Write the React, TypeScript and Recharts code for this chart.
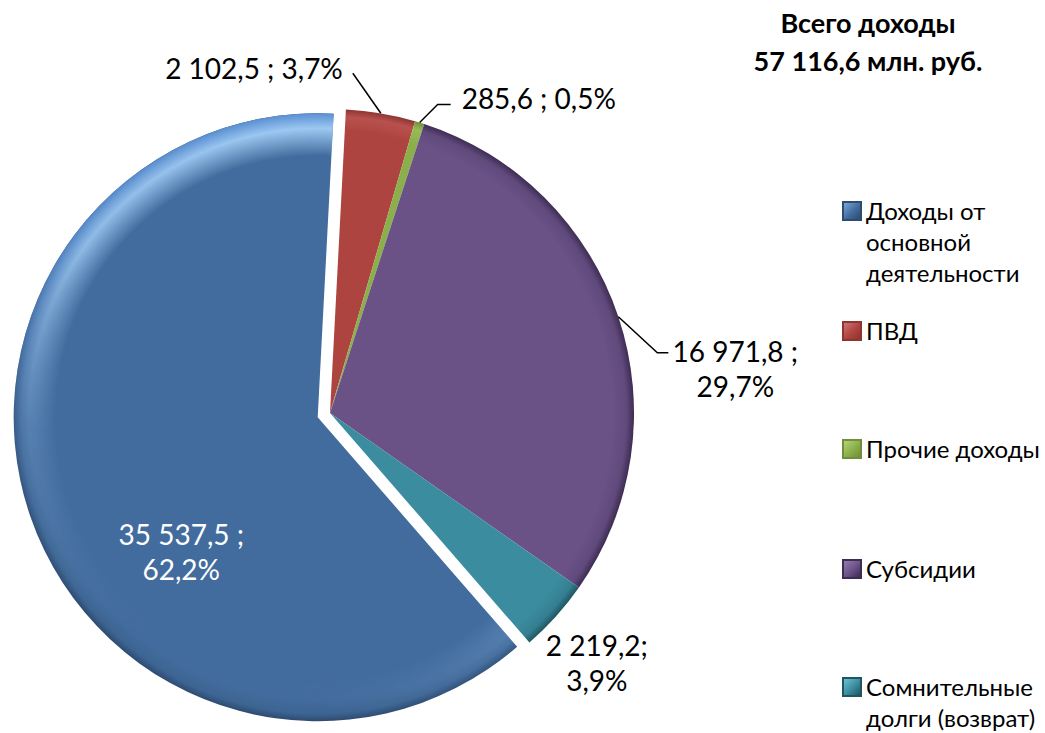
import React from "react";
import { Cell, Legend, Pie, PieChart } from "recharts";

// Income structure pie: one exploded slice, values + shares as outside labels.

const CATEGORIES = [
  "Доходы от основной деятельности",
  "ПВД",
  "Прочие доходы",
  "Субсидии",
  "Сомнительные долги (возврат)",
];
const VALUES = [35537.5, 2102.5, 285.6, 16971.8, 2219.2];
const LABEL_LINES = [
  ["35 537,5 ;", "62,2%"],
  ["2 102,5 ; 3,7%"],
  ["285,6 ; 0,5%"],
  ["16 971,8 ;", "29,7%"],
  ["2 219,2;", "3,9%"],
];
const LEGEND_LINES = [
  ["Доходы от", "основной", "деятельности"],
  ["ПВД"],
  ["Прочие доходы"],
  ["Субсидии"],
  ["Сомнительные", "долги (возврат)"],
];
const TITLE_LINES = ["Всего доходы", "57 116,6 млн. руб."];

const COLORS = ["#426c9d", "#ae4440", "#8baf4a", "#6a5186", "#3b8c9f"];
const RIM_MID = ["#3d6593", "#b8524e", "#97bb55", "#604a7c", "#347f91"];
const RIM_EDGE = ["#2e4b70", "#8e3431", "#6f8f3a", "#3e2c52", "#1f5662"];
const LEGEND_LIGHT = ["#7aa6d8", "#d27470", "#b5d379", "#937bb0", "#6cbfd2"];

const FONT = "Lato, 'Open Sans', sans-serif";
const W = 1045;
const H = 733;
const CX = 330;
const CY = 413;
const R = 304;
const EXPLODE = 13;
const FIRST_EDGE = 87; // where the second slice begins (deg, recharts convention)

const data = CATEGORIES.map((name, i) => ({ name, value: VALUES[i] }));
const total = VALUES.reduce((a, b) => a + b, 0);
const startAngle = FIRST_EDGE + (360 * VALUES[0]) / total;
const endAngle = startAngle - 360;
const bigMid = startAngle - (180 * VALUES[0]) / total;
const RAD = Math.PI / 180;
const BX = CX + EXPLODE * Math.cos(bigMid * RAD);
const BY = CY - EXPLODE * Math.sin(bigMid * RAD);

// text placement relative to the rim point at each slice's mid angle
const LABEL_LAYOUT: {
  dx: number;
  dy: number;
  anchor: "start" | "middle" | "end";
  line: number[][] | null;
  color: string;
}[] = [
  { dx: 151, dy: 35, anchor: "middle", line: null, color: "#ffffff" },
  { dx: -38, dy: -45, anchor: "end", line: [[-28, -40]], color: "#000" },
  { dx: 42, dy: -25, anchor: "start", line: [[18, -18], [31, -18]], color: "#000" },
  { dx: 117, dy: 52, anchor: "middle", line: [[39, 36], [50, 36]], color: "#000" },
  { dx: 41, dy: 46, anchor: "middle", line: null, color: "#000" },
];
const LINE_GAP = 35;

function makeLabel(onlyBig: boolean) {
  return (props: any) => {
    const { cx, cy, midAngle, outerRadius, index } = props;
    if (onlyBig !== (index === 0)) return null;
    const rx = cx + outerRadius * Math.cos(-midAngle * RAD);
    const ry = cy + outerRadius * Math.sin(-midAngle * RAD);
    const lay = LABEL_LAYOUT[index];
    const lines = LABEL_LINES[index];
    const y0 = ry + lay.dy - ((lines.length - 1) * LINE_GAP) / 2;
    return (
      <g key={`lbl-${index}`}>
        {lay.line && (
          <polyline
            points={[[0, 0], ...lay.line].map(([x, y]) => `${rx + x},${ry + y}`).join(" ")}
            fill="none"
            stroke="#000"
            strokeWidth={1.5}
          />
        )}
        {lines.map((t, k) => (
          <text
            key={k}
            x={rx + lay.dx}
            y={y0 + k * LINE_GAP}
            textAnchor={lay.anchor}
            dominantBaseline="central"
            fontFamily={FONT}
            fontSize={28}
            fill={lay.color}
          >
            {t}
          </text>
        ))}
      </g>
    );
  };
}

function LegendBox() {
  const tops = [211, 331, 449, 569, 687];
  return (
    <div style={{ position: "relative", width: W, height: H }}>
      {LEGEND_LINES.map((lines, i) => (
        <div key={i} style={{ position: "absolute", left: 842, top: tops[i] - 16 }}>
          <div
            style={{
              position: "absolute",
              left: 0,
              top: 6,
              width: 20,
              height: 20,
              boxSizing: "border-box",
              background: `linear-gradient(135deg, ${LEGEND_LIGHT[i]} 0%, ${COLORS[i]} 55%, ${RIM_EDGE[i]} 100%)`,
              border: `2px solid ${RIM_EDGE[i]}`,
            }}
          />
          {lines.map((t, k) => (
            <div
              key={k}
              style={{
                position: "absolute",
                left: 24,
                top: k * 31,
                height: 32,
                lineHeight: "32px",
                whiteSpace: "nowrap",
                fontFamily: FONT,
                fontSize: 24,
                color: "#000",
              }}
            >
              {t}
            </div>
          ))}
        </div>
      ))}
    </div>
  );
}

export default function App() {
  return (
    <div style={{ position: "absolute", left: 0, top: 0, width: W, height: H, background: "#fff" }}>
      <PieChart width={W} height={H} margin={{ top: 0, right: 0, bottom: 0, left: 0 }}>
        <defs>
          {COLORS.map((c, i) => (
            <radialGradient
              key={i}
              id={`rim${i}`}
              gradientUnits="userSpaceOnUse"
              cx={i === 0 ? BX : CX}
              cy={i === 0 ? BY : CY}
              r={R}
            >
              <stop offset="0%" stopColor={c} />
              <stop offset="93%" stopColor={c} />
              <stop offset="97.5%" stopColor={RIM_MID[i]} />
              <stop offset="100%" stopColor={RIM_EDGE[i]} />
            </radialGradient>
          ))}
          <radialGradient id="hl" gradientUnits="userSpaceOnUse" cx={BX} cy={BY} r={R}>
            <stop offset="0%" stopColor="#9cc8f2" stopOpacity={0} />
            <stop offset="86%" stopColor="#9cc8f2" stopOpacity={0} />
            <stop offset="95%" stopColor="#9cc8f2" stopOpacity={1} />
            <stop offset="100%" stopColor="#5a8fd2" stopOpacity={1} />
          </radialGradient>
          <linearGradient id="hlFade" gradientUnits="userSpaceOnUse" x1={230} y1={110} x2={40} y2={600}>
            <stop offset="0%" stopColor="#fff" />
            <stop offset="35%" stopColor="#fff" stopOpacity={0.85} />
            <stop offset="70%" stopColor="#fff" stopOpacity={0.25} />
            <stop offset="100%" stopColor="#fff" stopOpacity={0} />
          </linearGradient>
          <mask id="hlMask" maskUnits="userSpaceOnUse" x={0} y={0} width={W} height={H}>
            <rect x={0} y={0} width={W} height={H} fill="url(#hlFade)" />
          </mask>
        </defs>
        <Pie
          data={data}
          dataKey="value"
          nameKey="name"
          cx={CX}
          cy={CY}
          outerRadius={R}
          startAngle={startAngle}
          endAngle={endAngle}
          stroke="none"
          label={makeLabel(false)}
          labelLine={false}
          isAnimationActive={false}
        >
          {data.map((d, i) => (
            <Cell key={d.name} fill={i === 0 ? "none" : `url(#rim${i})`} stroke="none" />
          ))}
        </Pie>
        <Pie
          data={data}
          dataKey="value"
          nameKey="name"
          cx={BX}
          cy={BY}
          outerRadius={R}
          startAngle={startAngle}
          endAngle={endAngle}
          stroke="none"
          label={makeLabel(true)}
          labelLine={false}
          legendType="none"
          isAnimationActive={false}
        >
          {data.map((d, i) => (
            <Cell key={d.name} fill={i === 0 ? "url(#rim0)" : "none"} stroke="none" />
          ))}
        </Pie>
        <Pie
          data={data}
          dataKey="value"
          nameKey="name"
          cx={BX}
          cy={BY}
          outerRadius={R}
          startAngle={startAngle}
          endAngle={endAngle}
          stroke="none"
          label={false}
          labelLine={false}
          legendType="none"
          isAnimationActive={false}
        >
          {data.map((d, i) => (
            <Cell
              key={d.name}
              fill={i === 0 ? "url(#hl)" : "none"}
              stroke="none"
              mask="url(#hlMask)"
            />
          ))}
        </Pie>
        <Legend
          content={() => <LegendBox />}
          wrapperStyle={{ position: "absolute", left: 0, top: 0, width: W, height: H, pointerEvents: "none" }}
        />
      </PieChart>
      <div
        style={{
          position: "absolute",
          left: 868 - 200,
          top: 4,
          width: 400,
          textAlign: "center",
          fontFamily: FONT,
          fontWeight: 700,
          fontSize: 27,
          lineHeight: "38px",
          color: "#000",
        }}
      >
        {TITLE_LINES.map((t) => (
          <div key={t}>{t}</div>
        ))}
      </div>
    </div>
  );
}
